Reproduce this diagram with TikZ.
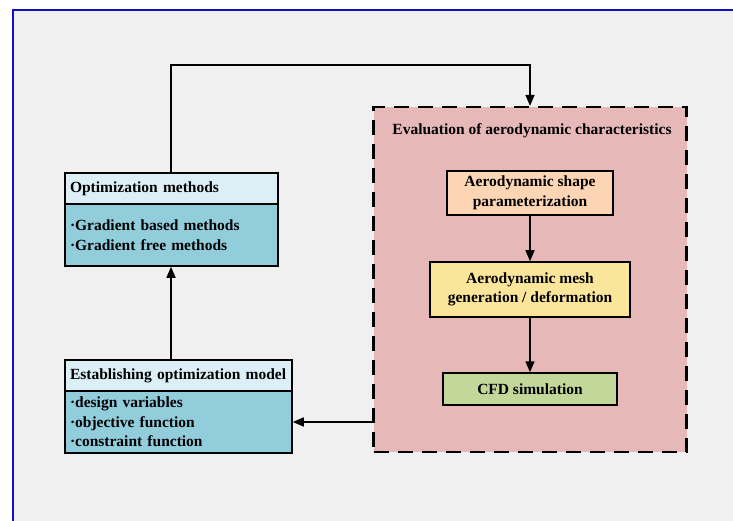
\documentclass[tikz,border=0pt]{standalone}
\usepackage{fontspec}
\setmainfont{Liberation Serif}
\usetikzlibrary{arrows.meta}
\definecolor{bgGray}{HTML}{F0F0F0}
\definecolor{frameBlue}{HTML}{1010C8}
\definecolor{headBlue}{HTML}{DDEFF6}
\definecolor{bodyBlue}{HTML}{92CDDC}
\definecolor{evalPink}{HTML}{E6B8B8}
\definecolor{shapePeach}{HTML}{FCD5B4}
\definecolor{meshYellow}{HTML}{FBE59A}
\definecolor{cfdGreen}{HTML}{C4D79B}
\tikzset{
  box/.style={draw, line width=1.5pt, inner sep=0pt, align=center},
  listbox/.style={draw, line width=1.5pt, inner xsep=5pt, inner ysep=0pt, align=left},
  arr/.style={-{Triangle[length=11pt,width=9pt]}, line width=1.5pt}
}
\begin{document}
\begin{tikzpicture}[x=1pt, y=-1pt, font=\bfseries\fontsize{15.5}{19.5}\selectfont]
    \clip (0,0) rectangle (733,521);
    % canvas and frame
    \fill[white] (0,0) rectangle (733,521);
    \draw[fill=bgGray, draw=frameBlue, line width=2pt] (13,10) rectangle (760,545);
    % evaluation field
    \node[draw, dash pattern=on 15pt off 9pt, line width=2.2pt, fill=evalPink,
          minimum width=313pt, minimum height=345pt] (evalBox) at (530,279.5) {};
    \node (evalTitle) at (532,131) {Evaluation of aerodynamic characteristics};
    % inner steps
    \node[box, fill=shapePeach, minimum width=166pt, minimum height=44pt] (shapeBox) at (530,193)
        {Aerodynamic shape\\parameterization};
    \node[box, fill=meshYellow, minimum width=200pt, minimum height=55pt] (meshBox) at (530,289.5)
        {Aerodynamic mesh\\generation / deformation};
    \node[box, fill=cfdGreen, minimum width=174pt, minimum height=32pt] (cfdBox) at (530,389)
        {CFD simulation};
    % optimization methods
    \node[listbox, fill=headBlue, text width=203pt, minimum height=31pt] (optHead) at (171.5,188.5)
        {Optimization methods};
    \node[listbox, fill=bodyBlue, text width=203pt, minimum height=62pt] (optBody) at (171.5,235)
        {·Gradient based methods\\·Gradient free methods};
    % optimization model
    \node[listbox, fill=headBlue, text width=217pt, minimum height=31pt] (estHead) at (178.5,375.5)
        {Establishing optimization model};
    \node[listbox, fill=bodyBlue, text width=217pt, minimum height=62pt] (estBody) at (178.5,422)
        {·design variables\\·objective function\\·constraint function};
    % connectors
    \coordinate (topTurn) at (171,65);
    \draw[arr] (optHead.north -| topTurn) -- (topTurn) -| (evalBox.north);
    \draw[arr] (shapeBox) -- (meshBox);
    \draw[arr] (meshBox) -- (cfdBox);
    \draw[arr] (evalBox.west |- estBody.east) -- (estBody.east);
    \draw[arr] (topTurn |- estHead.north) -- (topTurn |- optBody.south);
\end{tikzpicture}
\end{document}
